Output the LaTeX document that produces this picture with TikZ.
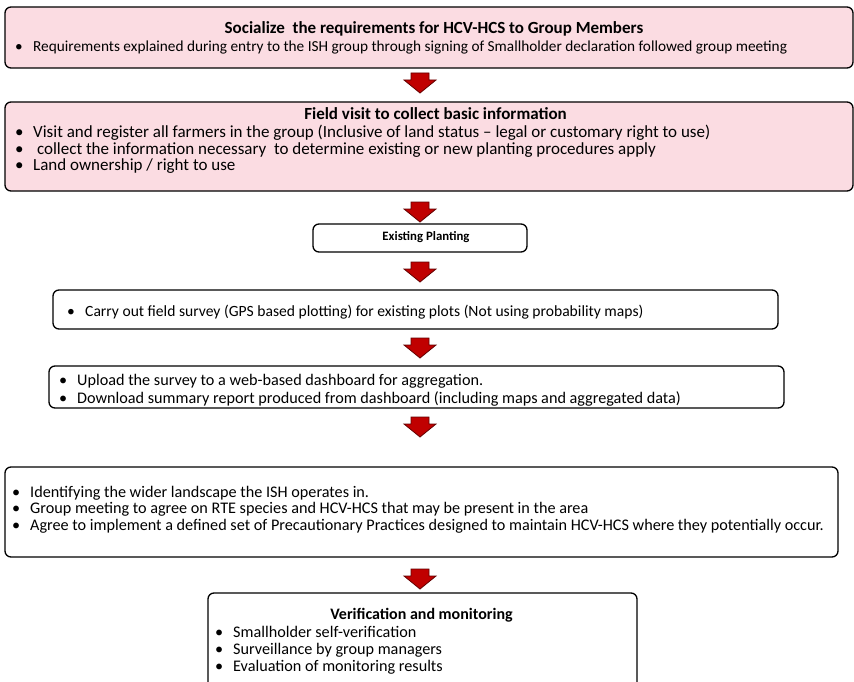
\documentclass[tikz,border=0pt]{standalone}
\usepackage{fontspec}
\setmainfont{Carlito}
\definecolor{pinkfill}{RGB}{251,220,226}
\definecolor{arrowred}{RGB}{192,0,0}
\definecolor{arrowedge}{RGB}{100,0,0}
\tikzset{
 box/.style={draw=black, line width=1.3pt, rounded corners=6pt, inner sep=0pt},
 pinkbox/.style={box, fill=pinkfill},
 whitebox/.style={box, fill=white},
 boxtitle/.style={font=\fontsize{17}{20}\selectfont\bfseries, inner sep=0pt, anchor=base},
 smalltitle/.style={font=\fontsize{12.8}{15}\selectfont\bfseries, inner sep=0pt, anchor=mid},
 bline/.style={inner sep=0pt, anchor=mid west},
 fa/.style={font=\fontsize{15.3}{17}\selectfont},
 fb/.style={font=\fontsize{17}{17}\selectfont},
 fc/.style={font=\fontsize{15.6}{17}\selectfont},
 fd/.style={font=\fontsize{16.2}{17}\selectfont},
 redarrow/.style={fill=arrowred, draw=arrowedge, line width=0.8pt, line join=miter},
}
\newcommand\bul[1]{\makebox[18pt][l]{\textbullet}#1}
\newcommand\blockarrow[2]{% x, ytop
 \draw[redarrow] (#1-9,#2) -- (#1+9,#2) -- (#1+9,#2+7) -- (#1+16,#2+7) -- (#1,#2+20) -- (#1-16,#2+7) -- (#1-9,#2+7) -- cycle;
}
\begin{document}
\begin{tikzpicture}[x=1pt,y=-1pt]
\useasboundingbox (0,0) rectangle (854,682);
\clip (0,0) rectangle (854,682);
\fill[white] (0,0) rectangle (854,682);

% Box 1
\node[pinkbox, minimum width=848, minimum height=61] (b1) at (429,37.5) {};
\node[boxtitle] (t1) at (434,33.5) {Socialize\ \ the requirements for HCV-HCS to Group Members};
\node[bline, fa] (l11) at (15,49.5) {\bul{Requirements explained during entry to the ISH group through signing of Smallholder declaration followed group meeting}};

\blockarrow{420}{73}

% Box 2
\node[pinkbox, minimum width=848, minimum height=89] (b2) at (429,146.5) {};
\node[boxtitle] (t2) at (435.5,120) {Field visit to collect basic information};
\node[bline, fb] (l21) at (15,135.5) {\bul{Visit and register all farmers in the group (Inclusive of land status -- legal or customary right to use)}};
\node[bline, fb] (l22) at (15,152) {\bul{\ collect the information necessary\ \ to determine existing or new planting procedures apply}};
\node[bline, fb] (l23) at (15,168.5) {\bul{Land ownership / right to use}};

\blockarrow{420}{202}

% Box 3
\node[whitebox, minimum width=214, minimum height=28] (b3) at (420,238) {};
\node[smalltitle] (t3) at (426,238) {Existing Planting};

\blockarrow{420}{262}

% Box 4
\node[whitebox, minimum width=725, minimum height=39] (b4) at (415.5,309.5) {};
\node[bline, fc] (l41) at (67,314.5) {\bul{Carry out field survey (GPS based plotting) for existing plots (Not using probability maps)}};

\blockarrow{420}{338}

% Box 5
\node[whitebox, minimum width=735, minimum height=42] (b5) at (416.5,387) {};
\node[bline, fd] (l51) at (59,383) {\bul{Upload the survey to a web-based dashboard for aggregation.}};
\node[bline, fd] (l52) at (59,401.5) {\bul{Download summary report produced from dashboard (including maps and aggregated data)}};

\blockarrow{420}{417}

% Box 6
\node[whitebox, minimum width=833, minimum height=90] (b6) at (421.5,512) {};
\node[bline, fd] (l61) at (12,495) {\bul{Identifying the wider landscape the ISH operates in.}};
\node[bline, fd] (l62) at (12,511.5) {\bul{Group meeting to agree on RTE species and HCV-HCS that may be present in the area}};
\node[bline, fd] (l63) at (12,528) {\bul{Agree to implement a defined set of Precautionary Practices designed to maintain HCV-HCS where they potentially occur.}};

\blockarrow{420}{569}

% Box 7
\node[whitebox, minimum width=429, minimum height=107] (b7) at (422.5,646.5) {};
\node[boxtitle, font=\fontsize{16}{18}\selectfont\bfseries] (t7) at (421.5,619) {Verification and monitoring};
\node[bline, fd] (l71) at (215,635) {\bul{Smallholder self-verification}};
\node[bline, fd] (l72) at (215,652) {\bul{Surveillance by group managers}};
\node[bline, fd] (l73) at (215,669) {\bul{Evaluation of monitoring results}};
\end{tikzpicture}
\end{document}
